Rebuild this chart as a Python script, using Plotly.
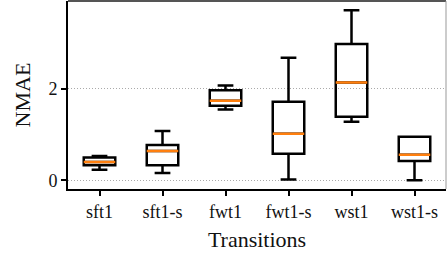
import plotly.graph_objects as go

categories = ["sft1", "sft1-s", "fwt1", "fwt1-s", "wst1", "wst1-s"]
lower_whisker = [0.23, 0.16, 1.55, 0.02, 1.28, 0.00]
q1_values = [0.33, 0.33, 1.63, 0.58, 1.39, 0.42]
median_values = [0.40, 0.64, 1.74, 1.02, 2.14, 0.56]
q3_values = [0.50, 0.77, 1.97, 1.72, 2.98, 0.95]
upper_whisker = [0.53, 1.08, 2.07, 2.68, 3.72, 0.95]

positions = list(range(len(categories)))
box_width = 0.5

fig = go.Figure()
fig.add_trace(go.Box(
    x=positions, q1=q1_values, median=median_values, q3=q3_values,
    lowerfence=lower_whisker, upperfence=upper_whisker,
    width=box_width, whiskerwidth=0.5,
    line=dict(color="black", width=2.5), fillcolor="rgba(0,0,0,0)",
    boxpoints=False, hoverinfo="skip", showlegend=False,
))

mx, my = [], []
for p, m in zip(positions, median_values):
    mx += [p - box_width / 2, p + box_width / 2, None]
    my += [m, m, None]
fig.add_trace(go.Scatter(x=mx, y=my, mode="lines",
                         line=dict(color="#ff7f0e", width=2.5),
                         hoverinfo="skip", showlegend=False))

font = dict(family="Liberation Serif", size=18, color="#111111")
fig.update_layout(
    width=448, height=254,
    margin=dict(l=68, r=2, t=1, b=65),
    paper_bgcolor="white", plot_bgcolor="white",
    font=font,
    xaxis=dict(range=[-0.5, 5.5], tickvals=positions, ticktext=categories,
               showline=True, linecolor="black", linewidth=2,
               ticks="outside", ticklen=5, tickwidth=2, tickcolor="black",
               showgrid=False, zeroline=False,
               title=dict(text="Transitions", standoff=11)),
    yaxis=dict(range=[-0.19, 3.92], tickvals=[0, 2], ticktext=["0", "2"],
               showline=True, linecolor="black", linewidth=2,
               ticks="outside", ticklen=5, tickwidth=2, tickcolor="black",
               showgrid=True, gridcolor="#aaaaaa", griddash="1px,2px", gridwidth=1,
               zeroline=False,
               title=dict(text="NMAE", standoff=12)),
    shapes=[
        dict(type="line", xref="paper", yref="paper", x0=0, x1=1, y0=1, y1=1,
             line=dict(color="#555555", width=2), layer="above"),
        dict(type="line", xref="paper", yref="paper", x0=1, x1=1, y0=0, y1=1,
             line=dict(color="#999999", width=1), layer="above"),
    ],
)

fig.write_html("out.html", config={"displayModeBar": False},
               post_script="document.body.style.margin='0';")
